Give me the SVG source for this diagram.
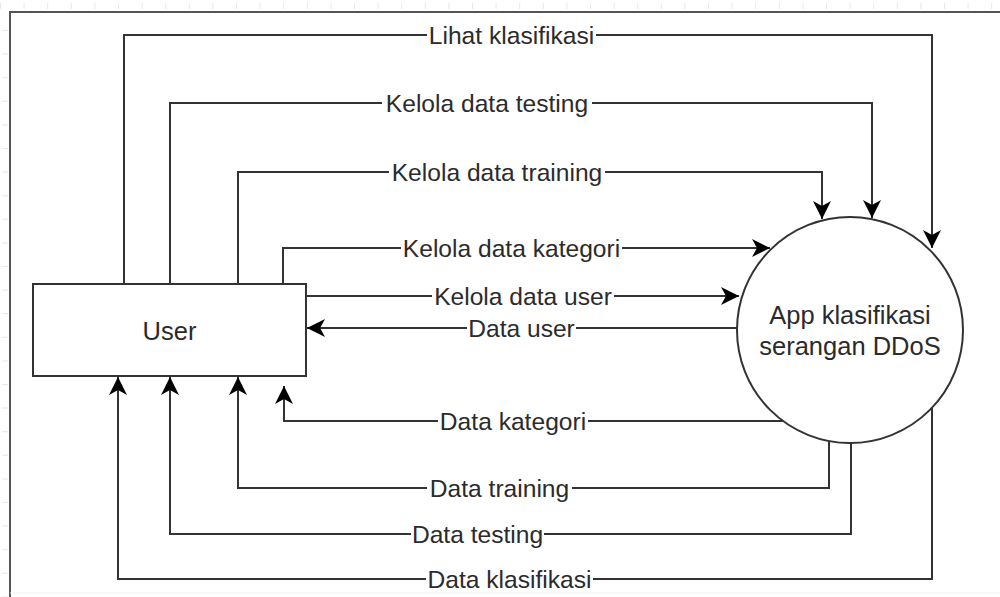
<svg xmlns="http://www.w3.org/2000/svg" width="1000" height="597" viewBox="0 0 1000 597">
<style>
.ln{fill:none;stroke:#333;stroke-width:2}
.lbl{font-family:"Liberation Sans",Arial,sans-serif;font-size:24.6px;fill:#2b2b2b;text-anchor:middle}
.bg{fill:#fff}
.node{fill:#fff;stroke:#333;stroke-width:2}
.ntx{font-family:"Liberation Sans",Arial,sans-serif;font-size:25.5px;fill:#2b2b2b;text-anchor:middle}
</style>
<defs>
<marker id="arr" viewBox="0 0 18 18" refX="18" refY="9" markerWidth="18" markerHeight="18" markerUnits="userSpaceOnUse" orient="auto">
<path d="M0,0 L18,9 L0,18 L5,9 Z" fill="#000"/>
</marker>
</defs>
<rect width="1000" height="597" fill="#fff"/>
<g id="frame">
<line x1="0" y1="6" x2="1000" y2="6" stroke="#e8e8e8" stroke-width="6" stroke-dasharray="1 22.6"/>
<line x1="5" y1="30" x2="5" y2="597" stroke="#e8e8e8" stroke-width="6" stroke-dasharray="1 22.6"/>
<path d="M10,597 V12 H1000" fill="none" stroke="#555" stroke-width="2"/>
<line x1="10" y1="593" x2="1000" y2="593" stroke="#f0f0f0" stroke-width="1"/>
</g>
<g id="connectors">
<path class="ln" marker-end="url(#arr)" d="M124,284 V35 H932 V248"/>
<path class="ln" marker-end="url(#arr)" d="M170,284 V103 H872 V218"/>
<path class="ln" marker-end="url(#arr)" d="M238,284 V172 H822 V219"/>
<path class="ln" marker-end="url(#arr)" d="M283,284 V248 H770"/>
<path class="ln" marker-end="url(#arr)" d="M306,296 H739"/>
<path class="ln" marker-end="url(#arr)" d="M737,328 H307"/>
<path class="ln" marker-end="url(#arr)" d="M783,421 H284 V386"/>
<path class="ln" marker-end="url(#arr)" d="M829,441 V488 H238 V377"/>
<path class="ln" marker-end="url(#arr)" d="M851,443 V534 H170 V377"/>
<path class="ln" marker-end="url(#arr)" d="M932,408 V579 H118 V377"/>
<g id="labels">
<rect class="bg" x="427" y="22" width="169" height="26"/><text class="lbl" x="511.5" y="44">Lihat klasifikasi</text>
<rect class="bg" x="382" y="90" width="210" height="26"/><text class="lbl" x="487" y="112">Kelola data testing</text>
<rect class="bg" x="389" y="159" width="216" height="26"/><text class="lbl" x="497" y="181">Kelola data training</text>
<rect class="bg" x="401" y="235" width="221" height="26"/><text class="lbl" x="511.5" y="257">Kelola data kategori</text>
<rect class="bg" x="432" y="284" width="182" height="24"/><text class="lbl" x="523" y="305">Kelola data user</text>
<rect class="bg" x="467" y="316" width="109" height="24"/><text class="lbl" x="521.5" y="337">Data user</text>
<rect class="bg" x="438" y="408" width="150" height="26"/><text class="lbl" x="513" y="430">Data kategori</text>
<rect class="bg" x="427" y="475" width="145" height="26"/><text class="lbl" x="499.5" y="497">Data training</text>
<rect class="bg" x="411" y="521" width="133" height="26"/><text class="lbl" x="477.5" y="543">Data testing</text>
<rect class="bg" x="426" y="566" width="167" height="26"/><text class="lbl" x="509.5" y="588">Data klasifikasi</text>
</g>
</g>
<g id="user">
<rect class="node" x="33" y="284" width="273" height="92"/>
<text class="ntx" x="169.5" y="340">User</text>
</g>
<g id="app">
<circle class="node" cx="850" cy="330" r="113"/>
<text class="ntx" x="850" y="324">App klasifikasi</text>
<text class="ntx" x="850" y="355">serangan DDoS</text>
</g>
</svg>
